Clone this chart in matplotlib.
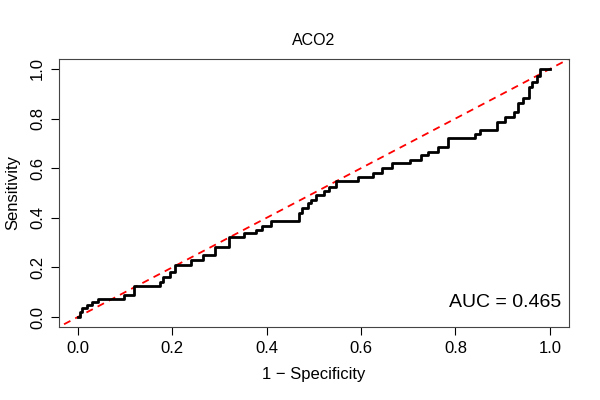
import matplotlib.pyplot as plt

plt.rcParams['font.family'] = ['Liberation Sans', 'DejaVu Sans']

# ROC curve for ACO2 (steps: at fpr[i] the sensitivity jumps to tpr[i])
fpr = [0.0, 0.004, 0.01, 0.02, 0.03, 0.042, 0.098, 0.12, 0.174, 0.18, 0.195, 0.207,
       0.241, 0.266, 0.291, 0.32, 0.352, 0.377, 0.39, 0.41, 0.469, 0.476, 0.487,
       0.494, 0.504, 0.522, 0.533, 0.547, 0.594, 0.625, 0.645, 0.665, 0.703, 0.728,
       0.742, 0.763, 0.784, 0.841, 0.851, 0.887, 0.905, 0.923, 0.933, 0.944, 0.955,
       0.962, 0.972, 0.979, 1.0]
tpr = [0.0, 0.02, 0.035, 0.05, 0.06, 0.073, 0.09, 0.125, 0.14, 0.16, 0.18, 0.21,
       0.23, 0.25, 0.283, 0.321, 0.337, 0.35, 0.367, 0.388, 0.42, 0.438, 0.458,
       0.472, 0.492, 0.509, 0.525, 0.548, 0.563, 0.58, 0.60, 0.62, 0.633, 0.653,
       0.667, 0.687, 0.72, 0.738, 0.754, 0.788, 0.808, 0.825, 0.862, 0.884, 0.929,
       0.949, 0.973, 1.0, 1.0]
auc = 0.465

fig = plt.figure(figsize=(6, 4), dpi=100)
ax = fig.add_axes([0.098, 0.1825, 0.85, 0.67])

ax.plot([-0.1, 1.1], [-0.1, 1.1], color='red', linestyle=(0, (4, 3)), linewidth=1.3)
ax.plot(fpr, tpr, drawstyle='steps-post', color='black', linewidth=2.0)

ax.set_xlim(-0.04, 1.04)
ax.set_ylim(-0.04, 1.04)
ticks = [0.0, 0.2, 0.4, 0.6, 0.8, 1.0]
ax.set_xticks(ticks)
ax.set_yticks(ticks)
ax.set_xticklabels([f'{t:.1f}' for t in ticks])
ax.set_yticklabels([f'{t:.1f}' for t in ticks], rotation=90, va='center')
ax.tick_params(direction='out', length=6, width=0.8, labelsize=12, pad=4)
for s in ax.spines.values():
    s.set_linewidth(0.8)
    s.set_color('#444444')

ax.set_title('ACO2', fontsize=11.5, pad=10)
ax.set_xlabel('1 \u2212 Specificity', fontsize=12, labelpad=8)
ax.set_ylabel('Sensitivity', fontsize=12, labelpad=7)
ax.text(1.025, 0.06, f'AUC = {auc:.3f}', ha='right', va='center', fontsize=14)

fig.savefig('out.png', dpi=100)
